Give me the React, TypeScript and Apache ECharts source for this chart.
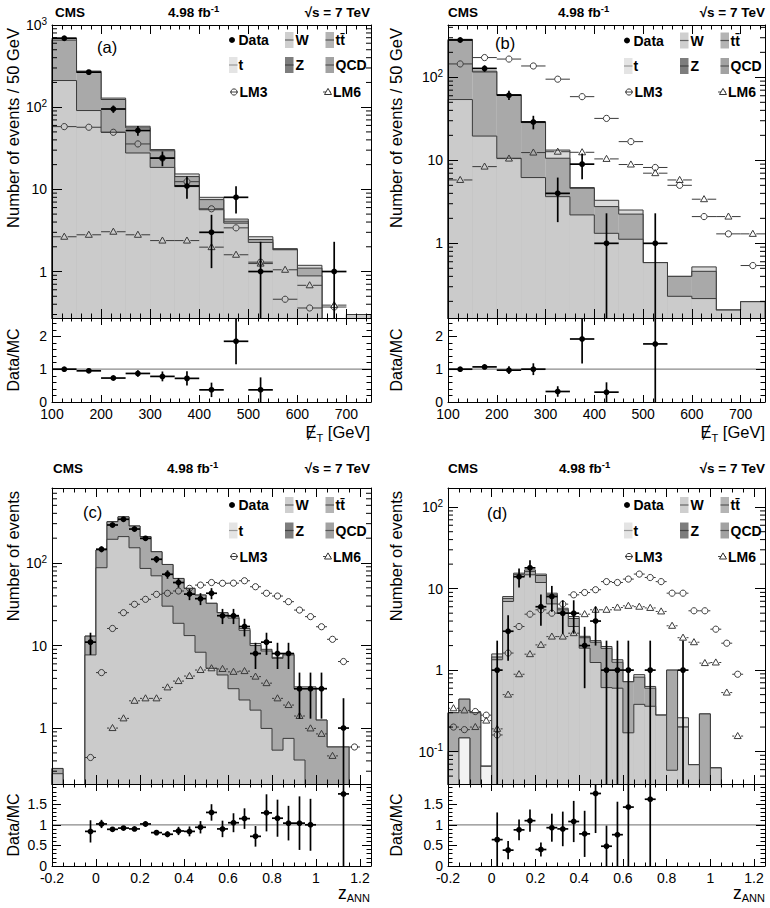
import React, { useEffect, useRef } from "react";
import * as echarts from "echarts";

const FONT = "'Liberation Sans', Arial, Helvetica, sans-serif";

// ---------------- (a) missing ET, 13 bins of 50 GeV from 100 GeV ----------------
const aW = [211, 91, 49.5, 27.7, 18.5, 10.8, 5.65, 3.88, 2.26, 1.84, 0.885, 0, 0.3];
const aDark = [655, 265, 124, 56, 29.5, 14.3, 7.5, 4.1, 2.45, 1.85, 1.1, 0, 0.3];
const aTotal = [690, 275, 129, 58.6, 30.5, 15.4, 8.0, 4.35, 2.65, 1.9, 1.19, 0, 0.3];
const aData = [690, 267, 95, 52, 24, 11, 3, 8, 1, null, null, 1, null];
const aDataErr = [26, 16.3, 9.7, 7.2, 4.9, 3.3, 1.9, 2.9, 1.3, null, null, 1.3, null];
const aLM3 = [58, 57, 49.5, 35.7, 24, 12.4, 5.8, 3.4, 1.3, 0.46, 0.36, 0.37, null];
const aLM6 = [2.65, 2.8, 3.05, 2.8, 2.38, 2.38, 1.98, 1.6, 1.25, 1.05, 0.68, 0.39, null];
const aRatio = [1.0, 0.95, 0.73, 0.87, 0.78, 0.72, 0.37, 1.85, 0.37, null, null, null, null];
const aRatioErr = [0.04, 0.05, 0.06, 0.1, 0.15, 0.22, 0.22, 0.7, 0.38, null, null, null, null];

// ---------------- (b) missing ET, 13 bins of 50 GeV from 100 GeV ----------------
const bW = [54, 19.6, 10.6, 6.2, 3.65, 2.2, 1.32, 1.12, 0.585, 0.23, 0.216, 0.157, 0.198];
const bDark = [280, 116, 61, 28.5, 10.6, 4.6, 2.77, 2.25, 0.585, 0.4, 0.46, 0.157, 0.198];
const bTotal = [287, 119, 62, 29, 13.3, 4.7, 3.3, 2.52, 0.585, 0.4, 0.52, 0.157, 0.198];
const bData = [282, 128, 61, 29, 4, 9, 1, null, 1, null, null, null, null];
const bDataErr = [17, 11.3, 7.8, 5.4, 2.2, 3.1, 1.3, null, 1.3, null, null, null, null];
const bLM3 = [145, 173, 166, 137, 95, 58.5, 32, 16.8, 8.2, 5.0, 2.1, 1.3, 0.54];
const bLM6 = [5.8, 8.4, 10.5, 12.4, 12.7, 12.5, 10.4, 8.9, 7.0, 5.8, 3.4, 2.1, 1.3];
const bRatio = [1.0, 1.07, 0.97, 1.0, 0.32, 1.92, 0.3, null, 1.77, null, null, null, null];
const bRatioErr = [0.05, 0.07, 0.12, 0.18, 0.16, 0.75, 0.3, null, 1.8, null, null, null, null];

// ---------------- (c) z_ANN, 29 bins of 0.05 from -0.2 ----------------
const cW = [0.28, 0, 0, 7.7, 87.7, 194, 209, 153, 86, 70, 30, 18.6, 13.2, 8.3, 5.3, 4.4, 3.0, 2.19, 1.65, 0.99, 0.54, 0.75, 0.41, 0, 0, 0, 0, 0, 0];
const cDark = [0.324, 0, 0, 13, 144, 317, 363, 281, 209, 137, 96, 65, 49.3, 40.9, 32.5, 25, 21.5, 15.3, 10.0, 8.6, 7.0, 7.7, 3.0, 3.0, 1.25, 0.59, 0.59, 0, 0];
const cTotal = [0.324, 0, 0, 13, 144, 317, 363, 281, 209, 137, 96, 65, 49.3, 40.9, 32.5, 25, 22.4, 16.1, 10.6, 9.0, 7.2, 8.0, 3.16, 3.16, 1.25, 0.59, 0.59, 0, 0];
const cData = [null, null, null, 11, 147, 289, 339, 258, 199, 111, 73, 58, 42, 37, 43, 23, 23, 17, 8, 11, 8, 8, 3, 3, 3, null, 1, null, null];
const cDataErr = [null, null, null, 3.3, 12, 17, 18.4, 16, 14, 10.5, 8.5, 7.6, 6.5, 6.1, 6.6, 4.8, 4.8, 4.1, 2.8, 3.3, 2.8, 2.8, 1.7, 1.7, 1.7, null, 1.3, null, null];
const cLM3 = [null, null, null, 0.44, 4.7, 16.1, 25, 31.6, 36.3, 41.7, 43, 45.8, 49.3, 54, 58, 56.8, 57, 61, 51.6, 43, 39.8, 34, 26.9, 22.4, 16.9, 11.9, 6.4, 0.59, null];
const cLM6 = [null, null, null, null, null, 1.0, 1.31, 2.14, 2.29, 2.29, 3.11, 3.71, 4.27, 5.05, 5.3, 5.2, 4.8, 4.9, 4.2, 3.5, 2.29, 1.9, 1.4, 0.99, 0.85, 0.46, null, null, null];
const cRatio = [null, null, null, 0.84, 1.02, 0.89, 0.92, 0.9, 1.02, 0.81, 0.77, 0.85, 0.84, 0.94, 1.3, 0.9, 1.05, 1.15, 0.72, 1.29, 1.16, 1.04, 1.04, 1.0, null, null, 1.75, null, null];
const cRatioErr = [null, null, null, 0.27, 0.1, 0.05, 0.05, 0.05, 0.06, 0.06, 0.07, 0.1, 0.12, 0.15, 0.2, 0.2, 0.23, 0.25, 0.25, 0.45, 0.45, 0.42, 0.65, 0.63, null, null, 2.0, null, null];

// ---------------- (d) z_ANN, 29 bins of 0.05 from -0.2 ----------------
const dT = [0, 0.147, 0, 0.066, 0, 0, 0, 0, 0, 0, 0, 0, 0, 0, 0, 0, 0, 0, 0, 0, 0, 0, 0, 0, 0, 0, 0, 0, 0];
const dW = [0.1, 0.147, 0, 0.066, 1.34, 6.95, 14.1, 14.8, 11.9, 6.5, 5.0, 3.43, 1.86, 1.24, 0.61, 0.6, 0.17, 0.38, 0.36, 0.28, 0.059, 0.2, 0.069, 0, 0.063, 0, 0, 0, 0];
const dDark = [0.3, 0.44, 0.3, 0.066, 1.45, 7.6, 15.0, 16.3, 14.5, 8.4, 5.5, 4.3, 2.5, 2.2, 1.85, 1.25, 0.72, 0.82, 0.6, 0.28, 1.0, 0.2, 0.069, 0.29, 0.063, 0, 0, 0, 0];
const dTotal = [0.3, 0.44, 0.3, 0.066, 1.58, 8.0, 15.5, 17, 15.1, 8.8, 5.75, 4.55, 2.6, 2.3, 1.95, 1.34, 0.72, 0.88, 0.63, 0.28, 1.0, 0.26, 0.069, 0.29, 0.063, 0, 0, 0, 0];
const dData = [null, null, null, null, 1, 3, 14, 18, 6, 8, 5, 5, 2, 4, 1, 1, 1, null, 1, null, null, 1, null, null, null, null, null, null, null];
const dDataErr = [null, null, null, null, 1.3, 1.7, 3.7, 4.3, 2.5, 2.8, 2.2, 2.2, 1.4, 2.0, 1.3, 1.3, 1.3, null, 1.3, null, null, 1.3, null, null, null, null, null, null, null];
const dLM3 = [0.2, 0.186, 0.31, 0.28, 0.16, 1.62, 3.43, 4.86, 5.5, 5.0, 6.46, 8.4, 8.96, 9.7, 12.2, 11.9, 13.1, 15.1, 13.7, 12.2, 8.8, 8.8, 5.35, 5.35, 3.18, 2.14, 0.89, null, null];
const dLM6 = [0.34, 0.32, 0.2, 0.24, 0.19, 0.5, 0.89, 1.57, 2.04, 2.58, 2.58, 2.84, 4.86, 5.5, 5.5, 5.86, 6.15, 6.0, 5.8, 5.25, 3.5, 2.5, 2.2, 1.22, 1.24, 0.53, 0.155, null, null];
const dRatio = [null, null, null, null, 0.64, 0.385, 0.877, 1.1, 0.4, 0.93, 0.9, 1.08, 0.78, 1.76, 0.48, 0.76, 1.43, null, 1.62, null, null, null, null, null, null, null, null, null, null];
const dRatioErr = [null, null, null, null, 0.66, 0.22, 0.25, 0.27, 0.17, 0.34, 0.42, 0.5, 0.56, 0.96, 0.5, 0.8, 1.5, null, 1.7, null, null, null, null, null, null, null, null, null, null];

// log-axis minor tick multipliers and decades
const logMinorSteps = [2, 3, 4, 5, 6, 7, 8, 9];
const logDecades = [0.01, 0.1, 1, 10, 100];

const COL_BAND = "#dadada";
const COL_DARK = "#a9a9a9";
const COL_W = "#cbcbcb";
const COL_T = "#f2f2f2";
const STROKE = "#3a3a3a";

const panels: any[] = [
  {
    left: 52, width: 319, mainTop: 25, mainH: 293, ratioH: 84,
    xMin: 100, xMax: 750, binW: 50, xInterval: 100, xMinorSplit: 5,
    yMin: 0.272, yMax: 1000, rMax: 2.56, rInterval: 1,
    layers: [[aTotal, COL_BAND], [aDark, COL_DARK], [aW, COL_W]],
    data: aData, dataErr: aDataErr, lm3: aLM3, lm6: aLM6, ratio: aRatio, ratioErr: aRatioErr,
    letter: "(a)", letterX: 97, letterY: 47, headY: 12.5, cmsX: 55, lumiX: 168, sqrtsX: 370,
    legendDx: 0, legendRows: [40, 65, 92], yTitle: "Number of events / 50 GeV", yTitleX: 13, yTitleY: 28,
    rTitleY: 360, xTitle: "met", xTitleX: 370, xTitleY: 432,
  },
  {
    left: 448, width: 317, mainTop: 25, mainH: 293, ratioH: 84,
    xMin: 100, xMax: 750, binW: 50, xInterval: 100, xMinorSplit: 5,
    yMin: 0.126, yMax: 427, rMax: 2.56, rInterval: 1,
    layers: [[bTotal, COL_BAND], [bDark, COL_DARK], [bW, COL_W]],
    data: bData, dataErr: bDataErr, lm3: bLM3, lm6: bLM6, ratio: bRatio, ratioErr: bRatioErr,
    letter: "(b)", letterX: 495, letterY: 43, headY: 12.5, cmsX: 448, lumiX: 558, sqrtsX: 765,
    legendDx: 395, legendRows: [40.5, 66, 92], yTitle: "Number of events / 50 GeV", yTitleX: 396, yTitleY: 28,
    rTitleY: 360, xTitle: "met", xTitleX: 765, xTitleY: 432,
  },
  {
    left: 52, width: 319, mainTop: 488, mainH: 296, ratioH: 82,
    xMin: -0.2, xMax: 1.25, binW: 0.05, xInterval: 0.2, xMinorSplit: 4,
    yMin: 0.21, yMax: 811, rMax: 1.99, rInterval: 0.5,
    layers: [[cTotal, COL_BAND], [cDark, COL_DARK], [cW, COL_W]],
    data: cData, dataErr: cDataErr, lm3: cLM3, lm6: cLM6, ratio: cRatio, ratioErr: cRatioErr,
    letter: "(c)", letterX: 83, letterY: 512, headY: 468, cmsX: 53, lumiX: 167, sqrtsX: 370,
    legendDx: 0, legendRows: [505, 530.5, 556.5], yTitle: "Number of events", yTitleX: 13, yTitleY: 491,
    rTitleY: 825, xTitle: "z", xTitleX: 370, xTitleY: 893,
  },
  {
    left: 448, width: 317, mainTop: 488, mainH: 296, ratioH: 82,
    xMin: -0.2, xMax: 1.25, binW: 0.05, xInterval: 0.2, xMinorSplit: 4,
    yMin: 0.04, yMax: 172, rMax: 1.99, rInterval: 0.5,
    layers: [[dTotal, COL_BAND], [dDark, COL_DARK], [dW, COL_W], [dT, COL_T]],
    data: dData, dataErr: dDataErr, lm3: dLM3, lm6: dLM6, ratio: dRatio, ratioErr: dRatioErr,
    letter: "(d)", letterX: 487, letterY: 513, headY: 468, cmsX: 448, lumiX: 559, sqrtsX: 765,
    legendDx: 395, legendRows: [505, 530.5, 556.5], yTitle: "Number of events", yTitleX: 396, yTitleY: 491,
    rTitleY: 825, xTitle: "z", xTitleX: 765, xTitleY: 893,
  },
];

const clamp = (v: number, a: number, b: number) => Math.max(a, Math.min(b, v));

function histSeries(vals: number[], xMin: number, binW: number, xi: number, yi: number, fill: string, z: number) {
  return {
    type: "custom", xAxisIndex: xi, yAxisIndex: yi, z, silent: true,
    data: vals.map((v, k) => [xMin + (k + 0.5) * binW, v, k]).filter((d) => d[1] > 0),
    renderItem: (params: any, api: any) => {
      const cs = params.coordSys;
      const top = cs.y, bot = cs.y + cs.height;
      const xc = api.value(0), k = api.value(2), v = vals[k];
      const yOf = (val: any) => (val && val > 0 ? clamp(api.coord([xc, val])[1], top, bot) : bot);
      const xl = api.coord([xc - binW / 2, v])[0];
      const xr = api.coord([xc + binW / 2, v])[0];
      const y = yOf(v);
      const prevY = k > 0 ? yOf(vals[k - 1]) : bot;
      const nextV = vals[k + 1];
      const ls = { stroke: STROKE, lineWidth: 1 };
      const ch: any[] = [
        { type: "rect", shape: { x: xl, y, width: xr - xl, height: bot - y }, style: { fill } },
        { type: "line", shape: { x1: xl, y1: y, x2: xr, y2: y }, style: ls },
        { type: "line", shape: { x1: xl, y1: prevY, x2: xl, y2: y }, style: ls },
      ];
      if (!(nextV > 0)) ch.push({ type: "line", shape: { x1: xr, y1: y, x2: xr, y2: bot }, style: ls });
      return { type: "group", children: ch };
    },
  };
}

function pointSeries(vals: any[], errs: any[] | null, xMin: number, binW: number, xi: number, yi: number, kind: string, isLog: boolean, z: number) {
  return {
    type: "custom", xAxisIndex: xi, yAxisIndex: yi, z, silent: true,
    data: vals.map((v, k) => [xMin + (k + 0.5) * binW, v, k]).filter((d) => d[1] != null),
    renderItem: (params: any, api: any) => {
      const cs = params.coordSys;
      const top = cs.y, bot = cs.y + cs.height;
      const xc = api.value(0), k = api.value(2), v = vals[k];
      const p = api.coord([xc, v]);
      const xl = api.coord([xc - binW / 2, v])[0];
      const xr = api.coord([xc + binW / 2, v])[0];
      const y = p[1];
      const ch: any[] = [];
      const isData = kind === "data";
      const col = isData ? "#000" : "#3a3a3a";
      const lw = isData ? 1.7 : 1;
      const gap = isData ? 0 : 3.4;
      const e = errs ? errs[k] : null;
      if (e) {
        const yHi = clamp(api.coord([xc, v + e])[1], top, bot);
        const lo = v - e;
        const yLo = isLog && lo <= 0 ? bot : clamp(api.coord([xc, lo])[1], top, bot);
        ch.push({ type: "line", shape: { x1: p[0], y1: yHi, x2: p[0], y2: yLo }, style: { stroke: col, lineWidth: lw } });
      }
      if (y >= top - 0.5 && y <= bot + 0.5) {
        ch.push({ type: "line", shape: { x1: xl, y1: y, x2: p[0] - gap, y2: y }, style: { stroke: col, lineWidth: lw } });
        ch.push({ type: "line", shape: { x1: p[0] + gap, y1: y, x2: xr, y2: y }, style: { stroke: col, lineWidth: lw } });
        if (isData) {
          ch.push({ type: "circle", shape: { cx: p[0], cy: y, r: 2.9 }, style: { fill: "#000" } });
        } else if (kind === "lm3") {
          ch.push({ type: "circle", shape: { cx: p[0], cy: y, r: 3.1 }, style: { fill: "none", stroke: col, lineWidth: 1 } });
        } else {
          ch.push({ type: "polygon", shape: { points: [[p[0], y - 3.6], [p[0] - 3.5, y + 2.5], [p[0] + 3.5, y + 2.5]] }, style: { fill: "none", stroke: col, lineWidth: 1 } });
        }
      }
      return { type: "group", children: ch };
    },
  };
}

function minorLogSeries(yMin: number, yMax: number, xMin: number, xi: number, yi: number) {
  const ticks = logDecades.flatMap((d) => logMinorSteps.map((s) => s * d)).filter((v) => v > yMin && v < yMax);
  return {
    type: "custom", xAxisIndex: xi, yAxisIndex: yi, z: 12, silent: true,
    data: ticks.map((t) => [xMin, t]),
    renderItem: (params: any, api: any) => {
      const cs = params.coordSys;
      const y = api.coord([xMin, api.value(1)])[1];
      const s = { stroke: "#000", lineWidth: 1 };
      return {
        type: "group",
        children: [
          { type: "line", shape: { x1: cs.x, y1: y, x2: cs.x + 5, y2: y }, style: s },
          { type: "line", shape: { x1: cs.x + cs.width - 5, y1: y, x2: cs.x + cs.width, y2: y }, style: s },
        ],
      };
    },
  };
}

const tickStyle = { color: "#000", width: 1 };

function xAxisCfg(p: any, gi: number, pos: string, labels: boolean, ratio: boolean) {
  return {
    type: "value", gridIndex: gi, position: pos, min: p.xMin, max: p.xMax, interval: p.xInterval, z: 10,
    axisLine: { show: true, onZero: false, lineStyle: { color: "#000", width: 1 } },
    axisTick: { show: true, inside: true, length: ratio ? 7 : 9, lineStyle: tickStyle },
    minorTick: { show: true, splitNumber: p.xMinorSplit, length: ratio ? 3.5 : 4.5, lineStyle: tickStyle },
    splitLine: { show: false },
    minorSplitLine: { show: false },
    axisLabel: labels
      ? { show: true, margin: 5, fontSize: 14, fontFamily: FONT, color: "#000", showMaxLabel: false, showMinLabel: true }
      : { show: false },
  };
}

const logFmt = (v: number) => {
  const l = Math.log10(v);
  const e = Math.round(l);
  if (Math.abs(l - e) > 1e-6) return "";
  if (e === 0) return "1";
  if (e === 1) return "10";
  return "10{sup|" + e + "}";
};

function yLogCfg(p: any, gi: number, pos: string, labels: boolean) {
  return {
    type: "log", logBase: 10, gridIndex: gi, position: pos, min: p.yMin, max: p.yMax, z: 10,
    axisLine: { show: true, onZero: false, lineStyle: { color: "#000", width: 1 } },
    axisTick: { show: true, inside: true, length: 10, lineStyle: tickStyle },
    splitLine: { show: false },
    axisLabel: labels
      ? {
          show: true, margin: 5, fontSize: 14, fontFamily: FONT, color: "#000", lineHeight: 18,
          formatter: logFmt,
          rich: { sup: { fontSize: 10, fontFamily: FONT, color: "#000", lineHeight: 10, verticalAlign: "top" } },
        }
      : { show: false },
  };
}

function yRatioCfg(p: any, gi: number, pos: string, labels: boolean) {
  return {
    type: "value", gridIndex: gi, position: pos, min: 0, max: p.rMax, interval: p.rInterval, z: 10,
    axisLine: { show: true, onZero: false, lineStyle: { color: "#000", width: 1 } },
    axisTick: { show: true, inside: true, length: 9, lineStyle: tickStyle },
    minorTick: { show: true, splitNumber: 5, length: 4.5, lineStyle: tickStyle },
    splitLine: { show: false },
    minorSplitLine: { show: false },
    axisLabel: labels
      ? { show: true, margin: 5, fontSize: 14, fontFamily: FONT, color: "#000", showMaxLabel: false }
      : { show: false },
  };
}

const fontStr = (size: number, bold?: boolean) => `${bold ? "bold " : ""}${size}px ${FONT}`;

function txt(x: number, y: number, text: string, size: number, opts: any = {}) {
  const align = opts.align || "left";
  const style: any = {
    text, font: fontStr(size, opts.bold), fill: "#000",
    align, verticalAlign: "middle", textAlign: align, textVerticalAlign: "middle",
  };
  if (opts.rich) style.rich = opts.rich;
  return { type: "text", x, y, z: 40, silent: true, rotation: opts.rotation || 0, style };
}

function legendEls(dx: number, r: number[]) {
  const els: any[] = [];
  const box = (x: number, y: number, fill: string, stroke: string) => {
    els.push({ type: "rect", z: 40, silent: true, shape: { x: x + dx, y: y - 8, width: 8.5, height: 16 }, style: { fill } });
    els.push({ type: "line", z: 41, silent: true, shape: { x1: x + dx, y1: y, x2: x + dx + 8.5, y2: y }, style: { stroke, lineWidth: 1.2 } });
  };
  els.push({ type: "circle", z: 41, silent: true, shape: { cx: 232 + dx, cy: r[0], r: 3 }, style: { fill: "#000" } });
  els.push(txt(238.5 + dx, r[0], "Data", 14, { bold: true }));
  box(285, r[0], "#cfcfcf", "#666");
  els.push(txt(295.5 + dx, r[0], "W", 14, { bold: true }));
  box(325.5, r[0], "#b4b4b4", "#555");
  els.push(txt(335.5 + dx, r[0], "tt\u0304", 14, { bold: true }));
  box(229, r[1], "#e4e4e4", "#999");
  els.push(txt(238.5 + dx, r[1], "t", 14, { bold: true }));
  box(285, r[1], "#7d7d7d", "#444");
  els.push(txt(295.5 + dx, r[1], "Z", 14, { bold: true }));
  box(325.5, r[1], "#a2a2a2", "#555");
  els.push(txt(335.5 + dx, r[1], "QCD", 14, { bold: true }));
  // LM3
  els.push({ type: "line", z: 41, silent: true, shape: { x1: 230 + dx, y1: r[2], x2: 238 + dx, y2: r[2] }, style: { stroke: "#444", lineWidth: 1 } });
  els.push({ type: "circle", z: 41, silent: true, shape: { cx: 234 + dx, cy: r[2], r: 3.1 }, style: { fill: "none", stroke: "#333", lineWidth: 1 } });
  els.push(txt(239.5 + dx, r[2], "LM3", 14, { bold: true }));
  // LM6
  els.push({ type: "line", z: 41, silent: true, shape: { x1: 323 + dx, y1: r[2], x2: 331 + dx, y2: r[2] }, style: { stroke: "#444", lineWidth: 1 } });
  els.push({ type: "polygon", z: 41, silent: true, shape: { points: [[328 + dx, r[2] - 3.6], [324.5 + dx, r[2] + 2.5], [331.5 + dx, r[2] + 2.5]] }, style: { fill: "#fff", stroke: "#333", lineWidth: 1 } });
  els.push(txt(333 + dx, r[2], "LM6", 14, { bold: true }));
  return els;
}

function buildOption() {
  const grids: any[] = [];
  const xAxes: any[] = [];
  const yAxes: any[] = [];
  const series: any[] = [];
  const graphics: any[] = [];

  panels.forEach((p) => {
    const gMain = grids.length;
    grids.push({ left: p.left, top: p.mainTop, width: p.width, height: p.mainH, show: false, containLabel: false, outerBoundsMode: "none" });
    const gRatio = grids.length;
    grids.push({ left: p.left, top: p.mainTop + p.mainH, width: p.width, height: p.ratioH, show: false, containLabel: false, outerBoundsMode: "none" });

    const xMain = xAxes.length;
    xAxes.push(xAxisCfg(p, gMain, "bottom", false, false));
    xAxes.push(xAxisCfg(p, gMain, "top", false, false));
    const xRatio = xAxes.length;
    xAxes.push(xAxisCfg(p, gRatio, "bottom", true, true));
    xAxes.push(xAxisCfg(p, gRatio, "top", false, true));

    const yMain = yAxes.length;
    yAxes.push(yLogCfg(p, gMain, "left", true));
    yAxes.push(yLogCfg(p, gMain, "right", false));
    const yRatio = yAxes.length;
    yAxes.push(yRatioCfg(p, gRatio, "left", true));
    yAxes.push(yRatioCfg(p, gRatio, "right", false));

    p.layers.forEach((ly: any, i: number) => {
      series.push(histSeries(ly[0], p.xMin, p.binW, xMain, yMain, ly[1], 2 + i * 0.1));
    });
    series.push(minorLogSeries(p.yMin, p.yMax, p.xMin, xMain, yMain));
    series.push(pointSeries(p.lm6, null, p.xMin, p.binW, xMain, yMain, "lm6", true, 5));
    series.push(pointSeries(p.lm3, null, p.xMin, p.binW, xMain, yMain, "lm3", true, 5.1));
    series.push(pointSeries(p.data, p.dataErr, p.xMin, p.binW, xMain, yMain, "data", true, 6));

    series.push({
      type: "line", xAxisIndex: xRatio, yAxisIndex: yRatio, silent: true, z: 3,
      data: [[p.xMin, 1], [p.xMax, 1]], symbol: "none",
      lineStyle: { color: "#8a8a8a", width: 1.2 },
    });
    series.push(pointSeries(p.ratio, p.ratioErr, p.xMin, p.binW, xRatio, yRatio, "data", false, 6));

    // texts
    graphics.push(txt(p.cmsX, p.headY, "CMS", 13.5, { bold: true }));
    graphics.push(
      txt(p.lumiX, p.headY, "{b|4.98 fb}{s|-1}", 13.5, {
        bold: true,
        rich: {
          b: { font: fontStr(13.5, true), lineHeight: 18, verticalAlign: "middle" },
          s: { font: fontStr(9.5, true), lineHeight: 9, verticalAlign: "top" },
        },
      })
    );
    graphics.push(txt(p.sqrtsX, p.headY, "\u221As = 7 TeV", 13.5, { bold: true, align: "right" }));
    graphics.push(txt(p.letterX, p.letterY, p.letter, 16.5));
    graphics.push(...legendEls(p.legendDx, p.legendRows));
    graphics.push(txt(p.yTitleX, p.yTitleY, p.yTitle, 16.5, { align: "right", rotation: Math.PI / 2 }));
    graphics.push(txt(p.yTitleX, p.rTitleY, "Data/MC", 16, { align: "center", rotation: Math.PI / 2 }));
    if (p.xTitle === "met") {
      graphics.push(
        txt(p.xTitleX, p.xTitleY, "{m|\u0246}{s|T}{m| [GeV]}", 16.5, {
          align: "right",
          rich: {
            m: { font: fontStr(16.5), lineHeight: 22, verticalAlign: "middle" },
            s: { font: fontStr(11), lineHeight: 11, verticalAlign: "bottom" },
          },
        })
      );
    } else {
      graphics.push(
        txt(p.xTitleX, p.xTitleY, "{m|z}{s|ANN}", 16.5, {
          align: "right",
          rich: {
            m: { font: fontStr(17.5), lineHeight: 20, verticalAlign: "middle" },
            s: { font: fontStr(11), lineHeight: 10, verticalAlign: "bottom" },
          },
        })
      );
    }
  });

  return {
    animation: false,
    backgroundColor: "#fff",
    grid: grids,
    xAxis: xAxes,
    yAxis: yAxes,
    series,
    graphic: { elements: graphics },
  };
}

export default function App() {
  const ref = useRef<HTMLDivElement>(null);
  useEffect(() => {
    if (!ref.current) return;
    const chart = echarts.init(ref.current, undefined, { renderer: "svg" });
    chart.setOption(buildOption() as any);
    return () => chart.dispose();
  }, []);
  return (
    <div
      ref={ref}
      style={{ position: "absolute", left: 0, top: 0, width: 770, height: 908, background: "#fff" }}
    />
  );
}
